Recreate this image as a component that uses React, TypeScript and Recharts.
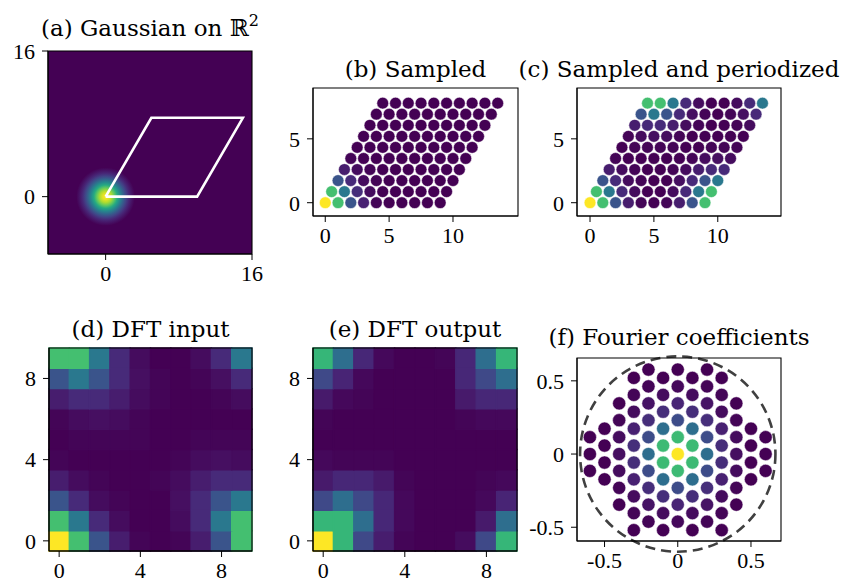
import React from 'react';
import { ScatterChart, Scatter, XAxis, YAxis, ReferenceArea } from 'recharts';

// (a) parallelogram of the sampling lattice cell
const cellX = [0, 10, 15, 5, 0];
const cellY = [0, 0, 8.66, 8.66, 0];
// (a) gaussian profile: radial offset (fraction of 3.2 units) -> value
const gaussOffset = [0, 0.1, 0.2, 0.3, 0.4, 0.5, 0.6, 0.7, 0.8, 0.9, 1];
const gaussValue = [1, 0.96, 0.88, 0.76, 0.61, 0.46, 0.32, 0.2, 0.11, 0.05, 0];

// (b)/(c) lattice rows: start x and height of each row
const rowStartX = [0, 0.5, 1, 1.5, 2, 2.5, 3, 3.5, 4, 4.5];
const rowY = [0, 0.866, 1.732, 2.598, 3.464, 4.33, 5.196, 6.062, 6.928, 7.794];

const sampled = [
  [1, 0.7, 0.26, 0.09, 0.01, 0, 0, 0, 0, 0],
  [0.7, 0.4, 0.13, 0.03, 0, 0, 0, 0, 0, 0],
  [0.26, 0.12, 0.03, 0.01, 0, 0, 0, 0, 0, 0],
  [0.08, 0.03, 0.01, 0, 0, 0, 0, 0, 0, 0],
  [0.01, 0, 0, 0, 0, 0, 0, 0, 0, 0],
  [0, 0, 0, 0, 0, 0, 0, 0, 0, 0],
  [0, 0, 0, 0, 0, 0, 0, 0, 0, 0],
  [0, 0, 0, 0, 0, 0, 0, 0, 0, 0],
  [0, 0, 0, 0, 0, 0, 0, 0, 0, 0],
  [0, 0, 0, 0, 0, 0, 0, 0, 0, 0],
];

const periodized = [
  [1, 0.7, 0.26, 0.08, 0.01, 0, 0.01, 0.08, 0.26, 0.7],
  [0.7, 0.4, 0.12, 0.03, 0, 0, 0.03, 0.12, 0.4, 0.7],
  [0.26, 0.12, 0.03, 0.01, 0, 0, 0.04, 0.12, 0.26, 0.4],
  [0.08, 0.03, 0.01, 0, 0, 0.01, 0.03, 0.08, 0.12, 0.12],
  [0.01, 0, 0, 0, 0, 0, 0.01, 0.03, 0.04, 0.03],
  [0, 0.01, 0.01, 0.01, 0.01, 0, 0, 0.01, 0.01, 0.01],
  [0.01, 0.03, 0.04, 0.03, 0.01, 0, 0, 0, 0, 0],
  [0.08, 0.12, 0.12, 0.08, 0.03, 0.01, 0, 0, 0.01, 0.03],
  [0.26, 0.4, 0.26, 0.12, 0.04, 0.01, 0, 0.01, 0.04, 0.12],
  [0.7, 0.7, 0.4, 0.12, 0.03, 0, 0, 0.03, 0.12, 0.4],
];

// (e) DFT output, rows from index 0 (bottom) to 9 (top)
const dftOut = [
  [1, 0.66, 0.22, 0.08, 0.01, 0, 0, 0.03, 0.22, 0.66],
  [0.66, 0.66, 0.36, 0.11, 0.02, 0, 0, 0, 0.07, 0.36],
  [0.22, 0.36, 0.22, 0.11, 0.02, 0, 0, 0, 0.02, 0.1],
  [0.07, 0.11, 0.11, 0.07, 0.01, 0, 0, 0, 0.01, 0.02],
  [0.02, 0.01, 0.01, 0.01, 0, 0, 0, 0, 0, 0],
  [0, 0, 0, 0, 0, 0, 0, 0, 0, 0],
  [0.01, 0, 0, 0, 0, 0, 0, 0.01, 0.02, 0.02],
  [0.07, 0.02, 0.01, 0, 0, 0, 0, 0.07, 0.11, 0.11],
  [0.22, 0.1, 0.02, 0, 0, 0, 0, 0.11, 0.22, 0.36],
  [0.66, 0.36, 0.11, 0.02, 0, 0, 0.01, 0.11, 0.36, 0.66],
];

// (f) Fourier coefficients on the dual lattice, column by column
const fColX = [-0.6, -0.5, -0.4, -0.3, -0.2, -0.1, 0, 0.1, 0.2, 0.3, 0.4, 0.5, 0.6];
const evenY = [0.577, 0.462, 0.346, 0.231, 0.115, 0, -0.115, -0.231, -0.346, -0.462];
const oddY = [0.52, 0.404, 0.289, 0.173, 0.058, -0.058, -0.173, -0.289, -0.404, -0.52];
const fColY = [
  [0.115, 0, -0.115],
  [0.173, 0.058, -0.058, -0.173],
  [0.346, 0.231, 0.115, 0, -0.115, -0.231, -0.346],
  oddY, evenY, oddY, evenY, oddY, evenY, oddY,
  [0.346, 0.231, 0.115, 0, -0.115, -0.231, -0.346],
  [0.173, 0.058, -0.058, -0.173],
  [0.115, 0, -0.115],
];
const fColV = [
  [0, 0, 0],
  [0, 0, 0, 0],
  [0, 0.01, 0.03, 0.04, 0.03, 0.01, 0],
  [0, 0.01, 0.03, 0.09, 0.13, 0.13, 0.09, 0.03, 0.01, 0],
  [0, 0.01, 0.05, 0.13, 0.23, 0.36, 0.23, 0.13, 0.05, 0.01],
  [0, 0.03, 0.13, 0.36, 0.68, 0.68, 0.36, 0.13, 0.03, 0],
  [0, 0.02, 0.1, 0.23, 0.68, 1, 0.68, 0.23, 0.1, 0.02],
  [0, 0.03, 0.13, 0.36, 0.68, 0.68, 0.36, 0.13, 0.03, 0],
  [0, 0.01, 0.05, 0.13, 0.23, 0.36, 0.23, 0.13, 0.05, 0.01],
  [0, 0.01, 0.03, 0.09, 0.13, 0.13, 0.09, 0.03, 0.01, 0],
  [0, 0.01, 0.03, 0.04, 0.03, 0.01, 0],
  [0, 0, 0, 0],
  [0, 0, 0],
];
const circleR = 0.667;

const VIRIDIS = ['#440154', '#482475', '#414487', '#355f8d', '#2a788e', '#21918c', '#22a884', '#44bf70', '#7ad151', '#bddf26', '#fde725'];
function hexRgb(h: string) {
  return [1, 3, 5].map(i => parseInt(h.slice(i, i + 2), 16));
}
function viridis(v: number) {
  const t = Math.max(0, Math.min(1, v)) * 10;
  const i = Math.min(9, Math.floor(t));
  const f = t - i;
  const a = hexRgb(VIRIDIS[i]);
  const b = hexRgb(VIRIDIS[i + 1]);
  const c = a.map((x, k) => Math.round(x + (b[k] - x) * f));
  return `rgb(${c[0]},${c[1]},${c[2]})`;
}

const latticePts = (vals: number[][]) =>
  vals.flatMap((row, j) => row.map((v, i) => ({ x: rowStartX[j] + i, y: rowY[j], v })));
const cellPts = cellX.map((x, i) => ({ x, y: cellY[i] }));
const fPts = fColX.flatMap((x, c) => fColY[c].map((y, k) => ({ x, y, v: fColV[c][k] })));

const TICK = { fill: '#000', fontSize: 22, fontFamily: '"Liberation Serif", serif' };
const YW = 60, XH = 40, PT = 14, PR = 22;

type Box = { left: number; top: number; width: number; height: number };

function Panel({ box, xDomain, yDomain, xTicks, yTicks, title, titleTop, children }: {
  box: Box; xDomain: [number, number]; yDomain: [number, number]; xTicks: number[]; yTicks: number[];
  title: React.ReactNode; titleTop: number; children?: React.ReactNode;
}) {
  return (
    <>
      <div style={{
        position: 'absolute', left: box.left - 150, width: box.width + 300, top: titleTop, textAlign: 'center',
        fontFamily: '"DejaVu Serif", serif', fontSize: 23, lineHeight: '23px', whiteSpace: 'nowrap', color: '#000',
      }}>{title}</div>
      <div style={{ position: 'absolute', left: box.left - YW, top: box.top - PT }}>
        <ScatterChart width={box.width + YW + PR} height={box.height + PT + XH} margin={{ top: PT, right: PR, bottom: 0, left: 0 }}>
          <XAxis type="number" dataKey="x" domain={xDomain} ticks={xTicks} allowDataOverflow interval={0} height={XH}
            tickSize={6} tickMargin={5} tick={TICK} axisLine={{ stroke: '#000' }} tickLine={{ stroke: '#000' }} />
          <YAxis type="number" dataKey="y" domain={yDomain} ticks={yTicks} allowDataOverflow interval={0} width={YW}
            tickSize={6} tickMargin={7} tick={TICK} axisLine={{ stroke: '#000' }} tickLine={{ stroke: '#000' }} />
          {children}
          <ReferenceArea x1={xDomain[0]} x2={xDomain[1]} y1={yDomain[0]} y2={yDomain[1]} ifOverflow="visible"
            fill="none" stroke="#000" strokeWidth={1.1} />
        </ScatterChart>
      </div>
    </>
  );
}

const dot = (r: number) => (p: any) => (
  <circle cx={p.cx} cy={p.cy} r={r} fill={viridis(p.payload.v)} stroke="#fff" strokeWidth={0.5} />
);

function heatCells(vals: number[][]) {
  return vals.flatMap((row, j) => row.map((v, i) => (
    <ReferenceArea key={`${i}-${j}`} x1={i - 0.5} x2={i + 0.5} y1={j - 0.5} y2={j + 0.5}
      fill={viridis(v)} fillOpacity={1} stroke={viridis(v)} strokeWidth={1.4} ifOverflow="visible" />
  )));
}

export default function App() {
  const aDom: [number, number] = [-6.3, 16];
  return (
    <div style={{ position: 'absolute', left: 0, top: 0, width: 846, height: 583, background: '#fff', overflow: 'hidden' }}>
      <Panel box={{ left: 48, top: 51, width: 204, height: 203 }} xDomain={aDom} yDomain={aDom} xTicks={[0, 16]} yTicks={[0, 16]}
        titleTop={17} title={<>(a) Gaussian on ℝ<span style={{ fontSize: 16, position: 'relative', top: -10 }}>2</span></>}>
        <defs>
          <radialGradient id="gaussGlow" cx="0.5" cy="0.5" r="0.5">
            {gaussOffset.map((o, i) => <stop key={i} offset={o} stopColor={viridis(gaussValue[i])} />)}
          </radialGradient>
        </defs>
        <ReferenceArea x1={aDom[0]} x2={aDom[1]} y1={aDom[0]} y2={aDom[1]} fill="#440154" fillOpacity={1} stroke="none" />
        <ReferenceArea x1={-3.2} x2={3.2} y1={-3.2} y2={3.2} fill="url(#gaussGlow)" fillOpacity={1} stroke="none" />
        <Scatter data={cellPts} line={{ stroke: '#fff', strokeWidth: 2.6 }} shape={() => <g />} isAnimationActive={false} />
      </Panel>

      <Panel box={{ left: 313, top: 88, width: 205, height: 128 }} xDomain={[-0.96, 15.09]} yDomain={[-1.04, 8.98]}
        xTicks={[0, 5, 10]} yTicks={[0, 5]} titleTop={58} title="(b) Sampled">
        <Scatter data={latticePts(sampled)} shape={dot(5.9)} isAnimationActive={false} />
      </Panel>

      <Panel box={{ left: 577, top: 88, width: 204, height: 128 }} xDomain={[-1.02, 14.95]} yDomain={[-1.04, 8.98]}
        xTicks={[0, 5, 10]} yTicks={[0, 5]} titleTop={58} title="(c) Sampled and periodized">
        <Scatter data={latticePts(periodized)} shape={dot(5.9)} isAnimationActive={false} />
      </Panel>

      <Panel box={{ left: 49, top: 348, width: 203, height: 203 }} xDomain={[-0.5, 9.5]} yDomain={[-0.5, 9.5]}
        xTicks={[0, 4, 8]} yTicks={[0, 4, 8]} titleTop={318} title="(d) DFT input">
        {heatCells(periodized)}
      </Panel>

      <Panel box={{ left: 313, top: 348, width: 204, height: 203 }} xDomain={[-0.5, 9.5]} yDomain={[-0.5, 9.5]}
        xTicks={[0, 4, 8]} yTicks={[0, 4, 8]} titleTop={318} title="(e) DFT output">
        {heatCells(dftOut)}
      </Panel>

      <Panel box={{ left: 577, top: 358, width: 204, height: 183 }} xDomain={[-0.688, 0.705]} yDomain={[-0.594, 0.656]}
        xTicks={[-0.5, 0, 0.5]} yTicks={[-0.5, 0, 0.5]} titleTop={326} title="(f) Fourier coefficients">
        <Scatter data={fPts} shape={dot(6.6)} isAnimationActive={false} />
        <ReferenceArea x1={-circleR} x2={circleR} y1={-circleR} y2={circleR} ifOverflow="hidden"
          shape={(p: any) => (
            <ellipse cx={p.x + p.width / 2} cy={p.y + p.height / 2} rx={p.width / 2} ry={p.height / 2}
              fill="none" stroke="#404040" strokeWidth={2.6} strokeDasharray="10 6" />
          )} />
      </Panel>
    </div>
  );
}
